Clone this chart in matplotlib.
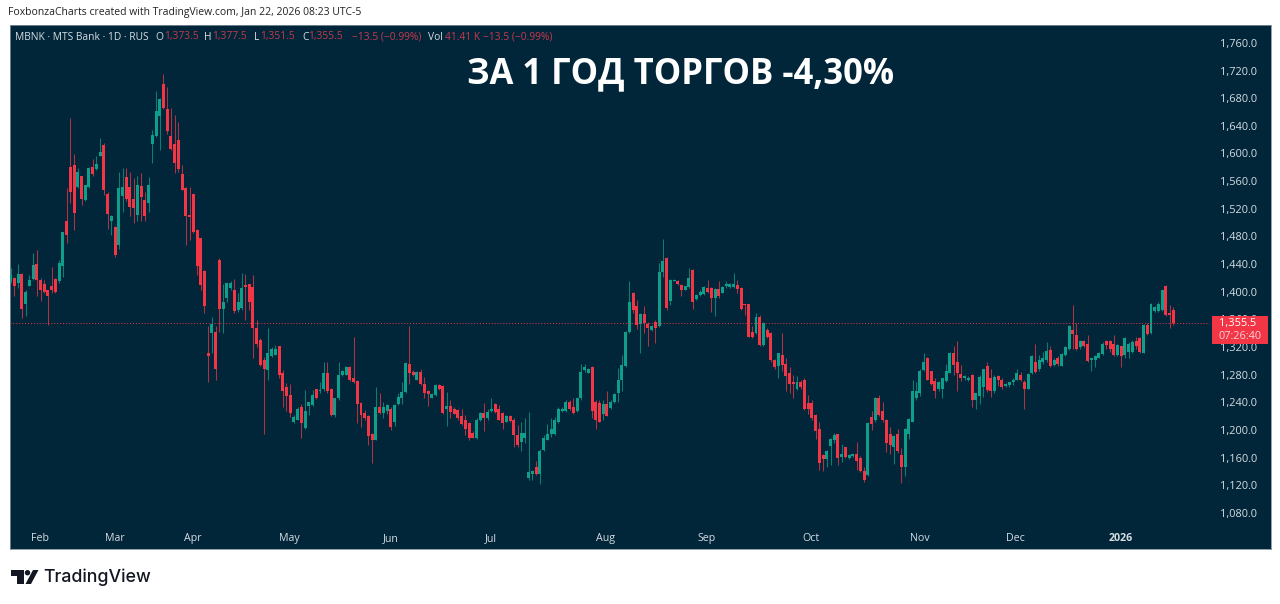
# -*- coding: utf-8 -*-
import numpy as np
import matplotlib
matplotlib.use("Agg")
import matplotlib.pyplot as plt
from matplotlib.patches import Polygon, Rectangle, Circle

plt.rcParams['font.family'] = ['Open Sans', 'DejaVu Sans']

# Bougies journalières MBNK
opens = [1416,1420,1413,1426,1382,1408,1418,1440,1417,1411,1403,1409,1418,1415,1437,1503,1580,1583,1551,1568,
1533,1551,1580,1577,1597,1613,1542,1502,1494,1468,1538,1566,1552,1535,1511,1553,1533,1528,1614,1626,
1654,1701,1664,1625,1614,1619,1571,1550,1511,1542,1490,1478,1430,1312,1340,1342,1446,1375,1391,1405,
1403,1374,1376,1410,1411,1407,1347,1330,1301,1287,1307,1309,1321,1283,1262,1251,1211,1215,1234,1203,
1235,1236,1259,1256,1259,1283,1260,1222,1246,1280,1280,1291,1276,1271,1239,1225,1220,1195,1186,1234,
1225,1227,1231,1211,1238,1247,1255,1295,1284,1273,1284,1267,1257,1247,1251,1265,1264,1230,1235,1230,
1229,1220,1214,1210,1196,1188,1215,1225,1217,1228,1238,1231,1225,1212,1220,1215,1193,1183,1189,1130,
1136,1147,1136,1171,1186,1195,1195,1212,1228,1228,1241,1233,1228,1246,1287,1283,1291,1241,1239,1223,
1238,1232,1241,1253,1272,1293,1342,1398,1380,1354,1368,1354,1345,1357,1350,1429,1449,1387,1416,1415,
1410,1403,1407,1431,1389,1396,1397,1405,1405,1391,1404,1399,1408,1407,1407,1410,1405,1382,1382,1342,
1340,1363,1323,1345,1341,1302,1292,1309,1296,1283,1269,1259,1270,1272,1239,1239,1222,1201,1164,1158,
1177,1185,1194,1161,1175,1159,1162,1166,1159,1141,1135,1219,1215,1247,1227,1215,1194,1175,1194,1164,
1147,1195,1212,1246,1253,1287,1305,1285,1271,1259,1260,1271,1283,1311,1299,1281,1275,1273,1280,1244,
1249,1262,1293,1275,1257,1278,1273,1264,1265,1269,1273,1280,1270,1260,1282,1299,1288,1299,1301,1316,
1294,1305,1293,1309,1317,1345,1338,1320,1329,1325,1301,1302,1305,1310,1329,1329,1325,1309,1321,1309,
1313,1313,1329,1333,1312,1352,1340,1373,1373,1374,1408,1370,1373.5]
highs = [1434,1422,1440,1427,1403,1425,1456,1461,1420,1417,1403,1436,1420,1446,1487,1550,1651,1600,1579,1568,
1555,1580,1592,1597,1623,1616,1545,1511,1495,1574,1579,1579,1574,1564,1567,1572,1545,1566,1634,1690,
1680,1715,1697,1666,1656,1645,1584,1552,1552,1542,1491,1478,1432,1350,1363,1351,1449,1412,1413,1415,
1419,1398,1427,1426,1412,1424,1359,1333,1306,1347,1320,1323,1322,1287,1268,1267,1222,1234,1238,1258,
1241,1258,1260,1269,1298,1298,1261,1247,1298,1287,1292,1292,1334,1273,1240,1229,1222,1196,1263,1253,
1240,1238,1234,1238,1254,1270,1299,1350,1287,1286,1288,1277,1258,1253,1266,1266,1265,1255,1243,1233,
1230,1231,1222,1211,1198,1217,1226,1239,1231,1247,1239,1236,1226,1222,1222,1217,1207,1211,1218,1226,
1142,1156,1172,1193,1209,1218,1219,1234,1233,1243,1243,1247,1247,1296,1295,1290,1292,1244,1243,1244,
1256,1244,1254,1290,1309,1343,1415,1400,1388,1370,1380,1357,1352,1359,1441,1476,1450,1418,1419,1417,
1412,1409,1435,1433,1397,1402,1408,1417,1407,1406,1416,1408,1415,1413,1427,1417,1407,1383,1383,1350,
1369,1367,1357,1347,1342,1303,1312,1341,1304,1291,1280,1278,1272,1275,1251,1243,1223,1212,1166,1171,
1188,1196,1195,1180,1176,1165,1166,1183,1162,1146,1211,1227,1248,1251,1241,1216,1205,1193,1201,1174,
1203,1217,1273,1270,1289,1312,1306,1286,1276,1271,1276,1296,1313,1322,1329,1294,1280,1278,1281,1254,
1280,1289,1299,1288,1280,1280,1275,1268,1270,1275,1288,1284,1272,1282,1309,1325,1309,1313,1328,1322,
1305,1307,1311,1321,1352,1381,1355,1330,1330,1338,1305,1309,1313,1328,1330,1330,1338,1325,1322,1334,
1328,1331,1334,1334,1354,1355,1384,1379,1386,1403,1410,1381,1377.5]
lows = [1413,1394,1405,1362,1365,1408,1417,1394,1387,1398,1352,1399,1399,1413,1422,1471,1528,1489,1550,1526,
1532,1550,1567,1576,1596,1540,1491,1482,1450,1462,1516,1531,1510,1500,1502,1503,1502,1515,1586,1624,
1605,1664,1629,1605,1572,1574,1547,1468,1475,1485,1425,1403,1370,1269,1311,1273,1342,1340,1386,1403,
1370,1371,1374,1359,1374,1304,1320,1292,1194,1272,1306,1308,1276,1234,1227,1219,1210,1214,1188,1202,
1222,1235,1245,1253,1257,1253,1220,1219,1244,1278,1279,1271,1268,1210,1205,1215,1178,1152,1185,1224,
1217,1224,1200,1206,1237,1238,1254,1267,1278,1272,1265,1246,1235,1246,1249,1258,1223,1206,1218,1223,
1215,1207,1193,1186,1188,1187,1213,1199,1214,1226,1225,1214,1202,1211,1212,1175,1175,1170,1181,1128,
1128,1135,1122,1170,1185,1190,1193,1210,1226,1226,1229,1224,1226,1244,1284,1282,1217,1201,1211,1214,
1220,1231,1239,1241,1257,1291,1341,1369,1346,1311,1340,1321,1344,1326,1349,1422,1374,1381,1415,1410,
1394,1402,1405,1375,1388,1394,1395,1399,1371,1365,1391,1398,1405,1405,1405,1398,1374,1367,1334,1333,
1339,1321,1321,1333,1299,1289,1275,1285,1256,1253,1246,1258,1260,1229,1223,1214,1187,1143,1141,1146,
1150,1181,1150,1154,1159,1158,1161,1142,1140,1125,1133,1200,1211,1220,1212,1169,1166,1151,1167,1123,
1134,1187,1211,1244,1250,1286,1272,1265,1247,1257,1247,1270,1282,1280,1257,1271,1273,1271,1234,1230,
1238,1248,1255,1248,1254,1264,1260,1262,1263,1265,1272,1271,1230,1259,1281,1283,1286,1296,1299,1291,
1293,1293,1292,1307,1316,1318,1316,1318,1320,1299,1285,1291,1304,1309,1318,1313,1307,1307,1291,1304,
1305,1312,1318,1312,1311,1337,1339,1371,1371,1373,1365,1347,1351.5]
closes = [1425,1408,1426,1375,1400,1417,1439,1417,1403,1400,1394,1403,1400,1442,1486,1482,1545,1514,1574,1535,
1555,1579,1570,1585,1603,1547,1513,1510,1453,1550,1552,1535,1523,1522,1555,1537,1510,1555,1627,1662,
1679,1666,1633,1606,1587,1577,1548,1510,1508,1487,1437,1410,1379,1307,1354,1289,1375,1386,1413,1413,
1373,1386,1405,1407,1386,1347,1325,1294,1289,1312,1318,1317,1280,1257,1249,1225,1219,1231,1210,1227,
1240,1251,1246,1258,1282,1256,1222,1246,1280,1285,1291,1272,1270,1238,1222,1217,1191,1186,1234,1225,
1234,1236,1204,1236,1248,1255,1297,1282,1279,1284,1267,1253,1252,1252,1265,1259,1225,1235,1226,1224,
1218,1209,1202,1189,1189,1215,1225,1217,1226,1231,1226,1215,1210,1220,1213,1193,1178,1196,1196,1140,
1141,1136,1170,1189,1194,1202,1215,1231,1231,1241,1231,1225,1246,1284,1291,1289,1228,1215,1212,1238,
1221,1241,1252,1273,1294,1342,1386,1374,1352,1368,1355,1347,1351,1347,1429,1444,1376,1417,1417,1412,
1402,1408,1420,1386,1396,1400,1407,1400,1391,1404,1394,1407,1412,1411,1411,1404,1375,1381,1335,1335,
1363,1323,1355,1335,1302,1291,1311,1294,1278,1267,1267,1269,1263,1230,1231,1217,1199,1153,1158,1170,
1187,1193,1159,1166,1161,1164,1165,1156,1141,1128,1210,1209,1247,1222,1215,1182,1178,1192,1170,1147,
1201,1216,1256,1256,1286,1298,1273,1267,1256,1270,1275,1285,1312,1294,1282,1275,1278,1276,1244,1253,
1277,1288,1258,1256,1277,1272,1262,1266,1269,1273,1282,1273,1260,1281,1307,1284,1301,1305,1315,1293,
1301,1296,1310,1320,1350,1339,1318,1329,1322,1300,1304,1307,1312,1325,1323,1317,1309,1323,1307,1333,
1325,1328,1321,1313,1352,1339,1382,1378,1383,1402,1366,1366,1355.5]

# Axe du temps (indice de bougie) et échelle de prix
month_labels = ["Feb","Mar","Apr","May","Jun","Jul","Aug","Sep","Oct","Nov","Dec","2026"]
month_pos = [7.9,28,48.9,74.9,102,128.9,159.7,186.8,214.7,244,269.7,298]
price_ticks = [1080,1120,1160,1200,1240,1280,1320,1360,1400,1440,1480,1520,1560,1600,1640,1680,1720,1760]
last_price = 1355.5

BG = "#01263a"
UP = "#0e9e8a"
DOWN = "#f23645"

fig = plt.figure(figsize=(12.8, 6.04), dpi=100, facecolor="white")

# Zone du graphique : x 10-1271, y 25-549 en pixels
ax = fig.add_axes([10/1280, 1-549/604, 1261/1280, 524/604], facecolor=BG)
ax.set_xlim(-0.19, 338.2)
ax.set_ylim(1028, 1786)
for s in ax.spines.values():
    s.set_color("#7f8f9a")
    s.set_linewidth(0.6)
ax.tick_params(length=0, labelleft=False, labelbottom=False, left=False, bottom=False)

o = np.array(opens, dtype=float)
h = np.array(highs, dtype=float)
l = np.array(lows, dtype=float)
c = np.array(closes, dtype=float)
x = np.arange(len(c))
couleurs = [UP if c[i] >= o[i] else DOWN for i in x]

ax.vlines(x, l, h, colors=couleurs, linewidth=0.75, alpha=0.75, zorder=2)
ax.bar(x, np.maximum(np.abs(c-o), 1.5), bottom=np.minimum(o, c), width=0.8, color=couleurs, linewidth=0, zorder=3)

# Ligne du dernier prix
ax.plot([x[0]-0.19, 321.5], [last_price, last_price], color=DOWN, lw=0.7, ls=(0, (1, 2)), zorder=4)

# Échelle de prix
for p in price_ticks:
    ax.annotate(f"{p:,}.0", xy=(1257/1280, p), xycoords=("figure fraction", "data"), xytext=(0, -1),
                textcoords="offset points", ha="right", va="center", color="#d6dde2", fontsize=7.9)

# Mois
for lab, pos in zip(month_labels, month_pos):
    ax.text(pos, 1042.5, lab, color="#d6dde2", fontsize=7.7, ha="center", va="center",
            fontweight="bold" if lab == "2026" else "normal")

# Calque en pixels pour les textes d'entête et le logo
ov = fig.add_axes([0, 0, 1, 1], facecolor="none")
ov.set_xlim(0, 1280)
ov.set_ylim(604, 0)
ov.axis("off")

ov.text(8, 13, "FoxbonzaCharts created with TradingView.com, Jan 22, 2026 08:23 UTC-5",
        fontsize=7.45, color="#222222", va="center")

GREY = "#d6dde2"
RED = "#c8384a"
legende = [(15, "MBNK · MTS Bank · 1D · RUS", GREY), (155, "O", GREY), (164, "1,373.5", RED),
           (204, "H", GREY), (212, "1,377.5", RED), (254, "L", GREY), (260, "1,351.5", RED),
           (302, "C", GREY), (308, "1,355.5", RED), (352, "−13.5 (−0.99%)", RED),
           (428, "Vol", GREY), (445, "41.41 K", RED), (483, "−13.5 (−0.99%)", RED)]
for px, txt, col in legende:
    ov.text(px, 37, txt, fontsize=7.4, color=col, va="center")

ov.text(681, 74, "ЗА 1 ГОД ТОРГОВ -4,30%", color="white", fontsize=24.9, fontweight="bold",
        ha="center", va="center")

# Étiquette du dernier prix
ov.add_patch(Rectangle((1212, 316), 56, 28, color=DOWN, lw=0, zorder=5))
ov.text(1237.5, 323.5, "1,355.5", color="white", fontsize=7.9, ha="center", va="center", zorder=6)
ov.text(1240, 336.5, "07:26:40", color="#fbd3d8", fontsize=7.9, ha="center", va="center", zorder=6)

# Logo TradingView
LOGO = "#131722"
ov.add_patch(Polygon([(11, 570), (24, 570), (24, 584), (17, 584), (17, 575.5), (11, 575.5)], color=LOGO, lw=0))
ov.add_patch(Circle((27.5, 572.7), 2.7, color=LOGO, lw=0))
ov.add_patch(Polygon([(33, 570), (38.5, 570), (31, 584), (25.5, 584)], color=LOGO, lw=0))
ov.text(43, 577, "TradingView", fontsize=12.8, color=LOGO, va="center", fontweight="medium",
        family=["Inter", "DejaVu Sans"])

fig.savefig("out.png", dpi=100, facecolor="white")
